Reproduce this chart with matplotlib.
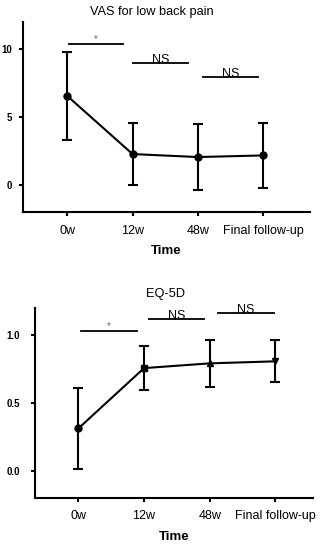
import matplotlib
matplotlib.use('Agg')
import matplotlib.pyplot as plt

plt.rcParams['font.family'] = ['Liberation Sans', 'DejaVu Sans']

times = ['0w', '12w', '48w', 'Final follow-up']

# VAS for low back pain
vas_mean = [6.55, 2.27, 2.05, 2.17]
vas_err = [3.25, 2.27, 2.45, 2.38]
vas_sig = [(0.02, 0.86, 10.35, '*'), (1.0, 1.85, 8.95, 'NS'), (2.08, 2.92, 7.95, 'NS')]

# EQ-5D
eq_mean = [0.31, 0.755, 0.79, 0.805]
eq_err = [0.30, 0.163, 0.172, 0.155]
eq_sig = [(0.04, 0.89, 1.03, '*'), (1.08, 1.92, 1.12, 'NS'), (2.12, 2.98, 1.16, 'NS')]
eq_markers = ['o', 's', '^', 'v']

fig = plt.figure(figsize=(3.32, 5.5), dpi=100)
ax1 = fig.add_axes([0.069, 0.6145, 0.865, 0.3455])
ax2 = fig.add_axes([0.1054, 0.0951, 0.837, 0.3454])


def style(ax, yticks, ylabels, ylim, xlim, ypad):
    for s in ['top', 'right']:
        ax.spines[s].set_visible(False)
    for s in ['left', 'bottom']:
        ax.spines[s].set_linewidth(1.5)
    ax.set_xticks(range(len(times)))
    ax.set_xticklabels(times, fontsize=9)
    ax.set_yticks(yticks)
    ax.set_yticklabels(ylabels, fontsize=7, fontweight='bold')
    ax.tick_params(width=1.5, length=3)
    ax.tick_params(axis='x', pad=6)
    ax.tick_params(axis='y', pad=ypad)
    ax.set_ylim(*ylim)
    ax.set_xlim(*xlim)
    ax.set_xlabel('Time', fontsize=9.5, fontweight='bold', labelpad=6)


def sig_bars(ax, sigs):
    for x0, x1, y, t in sigs:
        ax.plot([x0, x1], [y, y], color='black', lw=1.3)
        if t == '*':
            ax.text((x0 + x1) / 2, y, t, ha='center', va='bottom', fontsize=7, color='#666666')
        else:
            ax.text((x0 + x1) / 2, y, t, ha='center', va='baseline', fontsize=9)


x = range(len(times))
ax1.errorbar(x, vas_mean, yerr=vas_err, color='black', lw=1.5, elinewidth=1.5,
             capsize=3.5, capthick=1.5, marker='o', ms=5)
sig_bars(ax1, vas_sig)
style(ax1, [0, 5, 10], ['0', '5', '10'], (-2, 12), (-0.68, 3.72), 5)
ax1.set_title('VAS for low back pain', fontsize=9.2, pad=5, x=0.45)

ax2.plot(x, eq_mean, color='black', lw=1.5)
ax2.errorbar(x, eq_mean, yerr=eq_err, fmt='none', ecolor='black', elinewidth=1.5,
             capsize=3.5, capthick=1.5)
for i, m in enumerate(eq_markers):
    ax2.plot(i, eq_mean[i], marker=m, color='black', ms=5 if m != 's' else 4.5)
sig_bars(ax2, eq_sig)
style(ax2, [0.0, 0.5, 1.0], ['0.0', '0.5', '1.0'], (-0.2, 1.2), (-0.66, 3.57), 8)
ax2.set_title('EQ-5D', fontsize=9.2, pad=8, x=0.47)

fig.savefig('out.png', dpi=100)
